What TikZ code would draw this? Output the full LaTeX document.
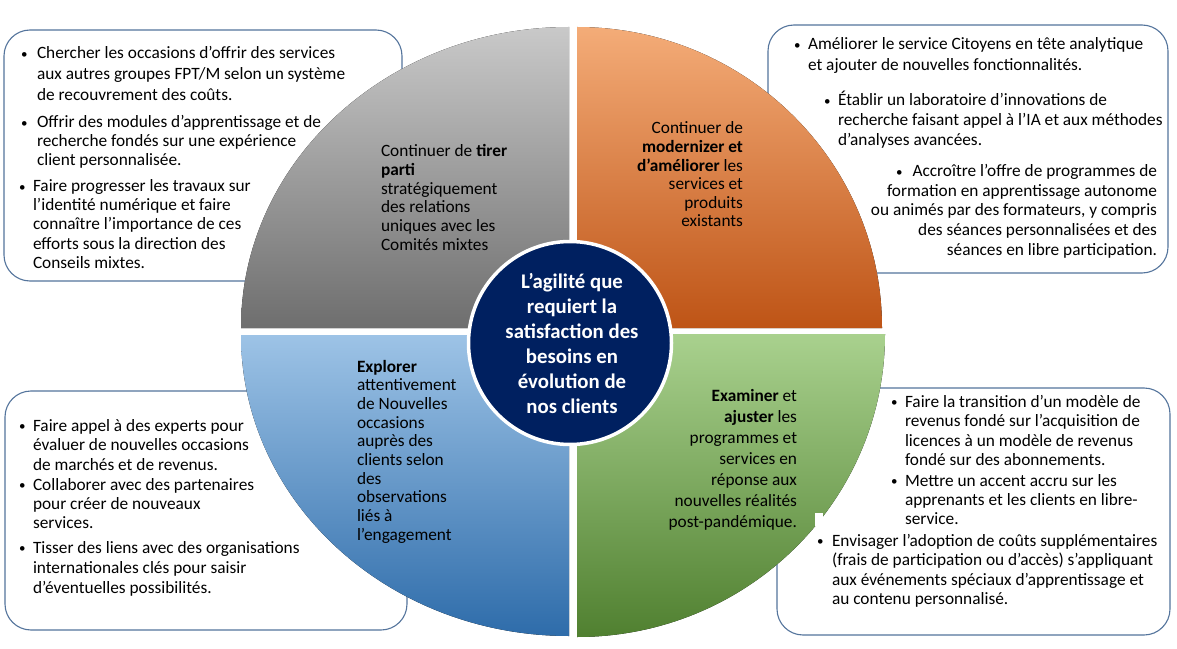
\documentclass[tikz,border=0pt]{standalone}
\usepackage{fontspec}
\setmainfont{Carlito}
\definecolor{boxline}{RGB}{84,116,156}
\definecolor{gtop}{RGB}{201,201,201}
\definecolor{gbot}{RGB}{110,110,110}
\definecolor{otop}{RGB}{244,172,120}
\definecolor{obot}{RGB}{190,84,22}
\definecolor{btop}{RGB}{157,195,230}
\definecolor{bbot}{RGB}{46,108,170}
\definecolor{grtop}{RGB}{169,209,142}
\definecolor{grbot}{RGB}{80,128,48}
\definecolor{navy}{RGB}{0,32,96}
\newcommand\Lt[2]{{\fontsize{17.3bp}{#1}\selectfont\begin{tabular}[t]{@{}l@{}}#2\end{tabular}}}
\newcommand\Rt[2]{{\fontsize{17.3bp}{#1}\selectfont\begin{tabular}[t]{@{}r@{}}#2\end{tabular}}}
\newcommand\smbul{{\fontsize{13bp}{15bp}\selectfont\raisebox{0.6bp}{•}}}
\begin{document}
\begin{tikzpicture}[x=1bp,y=-1bp,
  infobox/.style={draw=boxline, line width=1.1bp, fill=white, rounded corners=26bp},
  txt/.style={inner sep=0pt, outer sep=0pt, anchor=base west, text=black},
  rtxt/.style={inner sep=0pt, outer sep=0pt, anchor=base east, text=black},
  bul/.style={inner sep=0pt, outer sep=0pt, anchor=base west, text=black}]
\path[use as bounding box, fill=white] (0,0) rectangle (1177,649);
% boxes
\draw[infobox] (4,30) rectangle (402,281);
\draw[infobox] (768,25) rectangle (1168,273);
\draw[infobox] (5,391) rectangle (407,630);
\draw[infobox] (777,388) rectangle (1170,635);
% quadrants
\fill[top color=gtop, bottom color=gbot] (569,328) -- (241,328) arc[start angle=180, end angle=270, x radius=328, y radius=301] -- cycle;
\fill[top color=otop, bottom color=obot] (577,328) -- (882,328) arc[start angle=0, end angle=-90, x radius=305, y radius=301] -- cycle;
\fill[top color=btop, bottom color=bbot] (569,335) -- (241,335) arc[start angle=180, end angle=90, x radius=328, y radius=301] -- cycle;
\fill[top color=grtop, bottom color=grbot] (577,334) -- (885,334) arc[start angle=0, end angle=90, x radius=308, y radius=303] -- cycle;
\fill[white] (815,513) rectangle (823,526);
% hub
\node[circle, fill=navy, draw=white, line width=3.5bp, minimum size=203bp, inner sep=0pt] (hub) at (570,343) {};
\node[inner sep=0pt, anchor=base, text=white] (hubtxt) at (572,288) {\fontsize{20.8bp}{25bp}\selectfont\bfseries\begin{tabular}[t]{@{}c@{}}L’agilité que\\requiert la\\satisfaction des\\besoins en\\évolution de\\nos clients\end{tabular}};
% quadrant texts
\node[txt] (qgray) at (381,157) {\Lt{18.6bp}{Continuer de \textbf{tirer}\\\textbf{parti}\\stratégiquement\\des relations\\uniques avec les\\Comités mixtes}};
\node[rtxt] (qorange) at (743,134) {\Rt{18.6bp}{Continuer de\\\textbf{modernizer et}\\\textbf{d’améliorer} les\\services et\\produits\\existants}};
\node[txt] (qblue) at (357,372) {\Lt{18.7bp}{\textbf{Explorer}\\attentivement\\de Nouvelles\\occasions\\auprès des\\clients selon\\des\\observations\\liés à\\l’engagement}};
\node[rtxt] (qgreen) at (797,401) {\Rt{21bp}{\textbf{Examiner} et\\\textbf{ajuster} les\\programmes et\\services en\\réponse aux\\nouvelles réalités\\post-pandémique.}};
% top-left box
\node[bul] (tl1b) at (21,59) {\smbul};
\node[txt] (tl1) at (37,59) {\Lt{21bp}{Chercher les occasions d’offrir des services\\aux autres groupes FPT/M selon un système\\de recouvrement des coûts.}};
\node[bul] (tl2b) at (21,128) {\smbul};
\node[txt] (tl2) at (37,128) {\Lt{19bp}{Offrir des modules d’apprentissage et de\\recherche fondés sur une expérience\\client personnalisée.}};
\node[bul] (tl3b) at (19,192) {\smbul};
\node[txt] (tl3) at (33,192) {\Lt{19bp}{Faire progresser les travaux sur\\l’identité numérique et faire\\connaître l’importance de ces\\efforts sous la direction des\\Conseils mixtes.}};
% top-right box
\node[bul] (tr1b) at (794,50) {\smbul};
\node[txt] (tr1) at (808,50) {\Lt{21bp}{Améliorer le service Citoyens en tête analytique\\et ajouter de nouvelles fonctionnalités.}};
\node[bul] (tr2b) at (824,106) {\smbul};
\node[txt] (tr2) at (838,106) {\Lt{20bp}{Établir un laboratoire d’innovations de\\recherche faisant appel à l’IA et aux méthodes\\d’analyses avancées.}};
\node[rtxt] (tr3) at (1157,177) {\Rt{19.5bp}{\smbul\hspace{10bp}Accroître l’offre de programmes de\\formation en apprentissage autonome\\ou animés par des formateurs, y compris\\des séances personnalisées et des\\séances en libre participation.}};
% bottom-left box
\node[bul] (bl1b) at (19,431) {\smbul};
\node[txt] (bl1) at (33,431) {\Lt{19.5bp}{Faire appel à des experts pour\\évaluer de nouvelles occasions\\de marchés et de revenus.}};
\node[bul] (bl2b) at (19,490) {\smbul};
\node[txt] (bl2) at (33,490) {\Lt{19bp}{Collaborer avec des partenaires\\pour créer de nouveaux\\services.}};
\node[bul] (bl3b) at (19,553) {\smbul};
\node[txt] (bl3) at (33,553) {\Lt{20bp}{Tisser des liens avec des organisations\\internationales clés pour saisir\\d’éventuelles possibilités.}};
% bottom-right box
\node[bul] (br1b) at (891,407) {\smbul};
\node[txt] (br1) at (905,407) {\Lt{19.5bp}{Faire la transition d’un modèle de\\revenus fondé sur l’acquisition de\\licences à un modèle de revenus\\fondé sur des abonnements.}};
\node[bul] (br2b) at (891,486) {\smbul};
\node[txt] (br2) at (905,486) {\Lt{19bp}{Mettre un accent accru sur les\\apprenants et les clients en libre-\\service.}};
\node[bul] (br3b) at (817,546) {\smbul};
\node[txt] (br3) at (832,546) {\Lt{19.5bp}{Envisager l’adoption de coûts supplémentaires\\(frais de participation ou d’accès) s’appliquant\\aux événements spéciaux d’apprentissage et\\au contenu personnalisé.}};
\end{tikzpicture}
\end{document}
